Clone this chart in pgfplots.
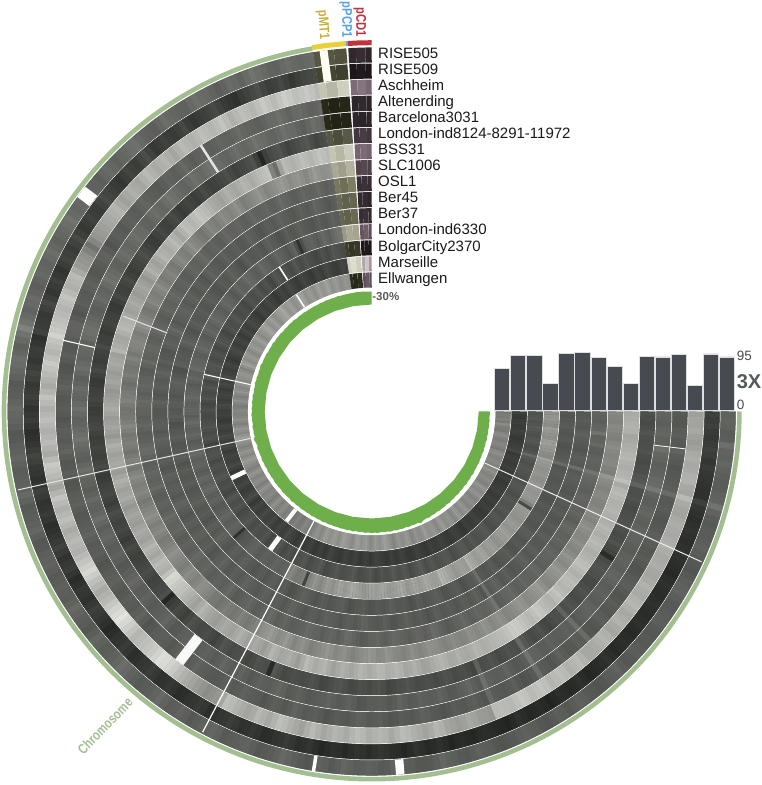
\documentclass[border=0pt]{standalone}
\usepackage{fontspec}
\setmainfont{Liberation Sans}
\usepackage{graphicx}
\usepackage{pgfplots}
\usepackage{pgfplotstable}
\pgfplotsset{compat=1.18}
\usepgfplotslibrary{polar}
\definecolor{band}{RGB}{163,191,146}
\definecolor{gcgreen}{RGB}{110,174,75}
\definecolor{barc}{RGB}{69,75,81}
\pgfplotsset{
 colormap={ringgray}{rgb255(0)=(0,3,0) rgb255(100)=(255,255,250)},
 colormap={olive}{rgb255(0)=(10,10,0) rgb255(50)=(130,130,105) rgb255(100)=(250,250,240)},
 colormap={plum}{rgb255(0)=(5,0,3) rgb255(50)=(130,112,125) rgb255(100)=(240,235,235)},
}
\pgfplotstableread{
a r1 r2 r3 r4 r5 r6 r7 r8 r9 r10 r11 r12 r13 r14 r15
0 37 24 62 34 38 30 66 52 38 33 33 56 31 24 46
-1 38 23 64 33 37 29 67 51 37 34 32 57 32 22 48
-2 37 24 63 33 36 28 68 50 36 35 33 58 33 21 47
-3 35 22 65 35 38 30 69 53 38 34 34 55 31 23 50
-4 36 21 62 36 39 32 68 52 39 33 35 54 32 24 46
-5 42 23 60 34 37 30 64 50 44 36 33 60 34 22 54
-6 38 24 62 33 37 29 65 49 37 37 32 58 33 23 49
-7 37 23 66 38 43 30 67 52 38 35 33 56 31 25 47
-8 39 20 67 35 39 31 68 54 40 34 34 55 30 24 46
-9 37 22 65 34 38 29 70 52 36 33 32 60 32 22 52
-10 36 21 66 32 36 28 71 51 35 32 31 61 33 21 54
-11 35 20 68 33 37 29 68 52 37 34 32 58 31 22 50
-12 35 19 69 34 38 30 67 53 38 36 33 57 29 23 48
-13 37 18 65 35 40 32 69 50 37 35 34 54 30 24 51
-14 38 18 64 36 41 33 70 49 37 34 35 53 32 25 52
-15 44 24 72 41 46 38 74 58 45 42 41 62 40 27 50
-16 38 20 66 34 38 30 66 54 40 34 32 59 34 21 47
-17 35 18 64 34 36 30 70 52 39 35 33 58 32 23 53
-18 34 17 63 35 36 31 72 50 38 36 34 56 30 24 55
-19 35 18 66 33 38 29 70 52 37 35 33 57 32 23 52
-20 35 19 67 32 39 28 68 53 36 34 32 58 33 22 50
-21 36 18 66 33 37 29 69 51 38 33 33 56 32 23 52
-22 37 17 65 34 36 30 70 50 39 32 34 55 31 24 53
-23 35 18 67 36 38 31 68 52 38 34 34 58 30 22 50
-24 34 19 69 36 39 31 66 54 37 35 33 60 29 21 48
-25 33 18 67 35 38 30 68 53 38 34 32 59 31 23 52
-26 32 17 65 33 37 28 71 51 39 33 31 57 33 24 56
-27 34 16 66 34 36 29 69 54 37 34 32 58 33 22 53
-28 36 15 67 35 35 31 67 56 35 35 34 59 32 21 50
-29 37 17 65 33 37 28 70 54 38 33 33 57 30 22 52
-30 38 18 64 31 38 26 72 52 40 32 32 50 29 23 54
-31 36 17 66 32 37 16 70 53 39 33 33 28 31 24 52
-32 34 16 69 34 36 28 67 55 37 35 34 60 33 25 49
-33 34 17 67 35 38 30 68 53 38 34 33 59 32 23 53
-34 35 18 66 36 39 32 70 51 39 33 32 58 31 22 58
-35 36 17 69 34 37 31 73 54 37 35 32 57 32 23 55
-36 36 16 71 32 35 30 74 57 36 36 33 56 33 24 52
-37 34 17 68 33 36 28 71 55 38 34 35 58 32 23 55
-38 33 18 65 35 37 27 68 53 39 33 35 60 30 22 57
-39 34 16 67 34 36 29 71 56 38 34 34 59 32 24 53
-40 34 15 69 33 35 31 73 59 38 36 32 57 33 24 50
-41 35 16 66 35 37 29 72 57 37 35 33 60 32 22 53
-42 36 17 64 36 38 28 70 55 36 33 34 62 31 21 55
-43 34 16 68 33 37 30 72 53 39 35 32 60 29 22 53
-44 33 15 70 32 36 32 75 52 40 37 31 59 29 23 51
-45 35 17 68 33 34 30 73 56 38 36 33 57 32 25 55
-46 38 19 66 41 42 38 69 60 37 34 35 56 34 25 58
-47 36 17 65 35 36 30 70 58 38 33 34 59 33 23 55
-48 35 16 65 36 37 30 72 56 39 32 33 61 32 22 53
-49 33 15 69 34 36 28 75 54 37 34 32 60 31 23 57
-50 32 14 72 33 35 26 77 53 36 36 31 58 30 24 59
-51 33 16 70 35 36 28 74 56 38 34 34 62 32 21 54
-52 34 18 68 37 37 31 71 58 40 33 35 64 33 20 51
-53 36 16 72 34 35 29 73 56 39 36 33 62 31 22 55
-54 37 15 74 32 35 28 75 54 38 38 32 60 30 23 57
-55 35 16 72 34 37 30 78 52 36 36 33 63 33 24 55
-56 33 17 70 35 38 33 79 51 35 34 34 65 34 24 54
-57 35 15 74 42 44 40 78 54 45 42 42 68 33 22 58
-58 36 13 76 34 36 29 75 56 40 32 36 60 31 21 60
-59 34 15 74 32 34 30 73 54 38 35 34 61 30 22 56
-60 32 16 72 31 33 31 72 52 37 37 33 62 28 23 52
-61 33 15 75 33 35 29 71 55 38 35 31 60 31 24 55
-62 35 14 77 36 38 27 70 57 39 33 30 58 33 25 58
-63 36 16 74 34 36 30 68 54 37 35 33 61 33 23 57
-64 37 18 71 33 35 32 67 52 36 36 35 63 32 22 55
-65 36 15 72 34 36 30 69 54 38 34 34 66 31 23 58
-66 34 13 73 35 37 29 70 55 40 32 33 68 30 24 61
-67 33 14 72 40 43 37 67 52 38 34 32 70 32 22 56
-68 32 15 58 32 34 26 65 51 37 35 31 62 33 20 54
-69 33 16 59 34 36 28 66 52 35 34 34 61 31 22 55
-70 35 17 60 36 39 30 68 54 34 33 36 62 29 23 57
-71 36 16 63 35 37 29 66 52 36 35 35 64 32 24 53
-72 37 14 65 33 36 28 65 50 38 36 34 65 35 25 51
-73 35 15 62 34 34 30 68 52 40 33 33 62 33 22 56
-74 33 16 60 35 33 31 70 54 41 31 32 60 31 21 59
-75 34 15 62 33 36 29 68 55 38 33 34 62 29 21 57
-76 36 13 64 31 38 27 66 56 36 35 35 63 28 22 54
-77 37 16 68 33 36 29 63 53 38 34 32 60 31 24 56
-78 39 18 70 34 35 30 62 51 39 33 30 58 33 25 58
-79 36 16 66 36 36 29 65 53 37 35 32 62 31 23 54
-80 34 15 63 37 37 28 68 55 35 37 34 65 30 21 51
-81 33 17 66 35 35 30 66 52 37 35 33 63 32 23 54
-82 33 19 68 33 34 32 64 50 38 34 33 61 34 24 57
-83 35 16 71 34 36 30 68 52 39 32 35 60 31 21 60
-84 36 14 73 35 38 29 70 53 40 31 36 59 29 20 62
-85 37 16 69 33 35 27 68 55 38 34 34 62 30 22 58
-86 38 17 65 32 33 26 67 57 36 36 32 64 32 23 55
-87 35 19 69 34 35 29 70 54 37 34 33 62 29 24 57
-88 34 20 71 36 36 31 71 53 39 33 34 60 27 25 59
-89 36 18 69 35 35 30 68 56 38 34 32 62 30 23 55
-90 37 16 67 34 35 28 66 58 37 35 31 63 33 21 52
-91 36 18 71 36 33 29 68 56 35 37 33 60 31 23 56
-92 35 19 73 37 32 30 70 54 34 38 35 58 30 24 60
-93 37 17 70 35 35 28 67 52 36 35 34 60 29 22 58
-94 39 15 66 33 37 27 64 50 38 33 33 62 28 20 56
-95 36 17 68 34 35 30 66 53 40 35 31 64 31 23 59
-96 34 18 70 35 34 32 68 56 41 36 30 66 34 25 61
-97 36 16 67 33 36 31 65 54 38 34 33 62 32 23 57
-98 37 14 64 31 38 29 62 52 36 32 36 59 31 22 53
-99 34 17 68 34 36 27 66 55 38 34 35 61 30 24 56
-100 32 20 72 36 35 26 70 58 39 35 34 63 29 25 58
-101 34 18 67 35 34 29 68 55 37 36 33 59 31 22 60
-102 36 17 62 34 33 31 66 53 35 37 32 55 33 20 62
-103 38 20 65 36 35 29 69 51 37 35 34 58 31 22 58
-104 40 22 68 38 37 28 72 49 38 33 35 60 30 23 54
-105 37 20 72 35 35 29 66 53 39 35 33 56 28 25 57
-106 35 19 74 33 34 30 60 56 40 36 31 52 27 26 59
-107 34 17 69 35 37 28 64 54 38 34 33 55 31 23 57
-108 33 16 65 36 39 27 67 51 37 32 34 58 34 21 55
-109 36 19 68 34 37 30 65 55 36 34 36 54 32 23 58
-110 38 21 71 32 35 33 64 59 35 35 37 50 31 24 60
-111 37 19 66 34 36 16 67 56 37 37 35 26 29 22 56
-112 36 18 63 35 37 29 70 54 39 38 33 48 28 20 52
-113 35 21 66 36 35 30 64 57 37 35 31 47 31 23 55
-114 34 23 69 37 33 31 60 60 36 33 30 46 33 25 57
-115 37 21 72 35 36 28 63 57 39 35 33 49 31 24 53
-116 39 20 74 34 38 26 66 55 41 36 35 52 30 22 50
-117 38 18 64 35 36 28 64 52 39 35 34 50 29 24 48
-118 37 17 58 36 35 30 62 50 38 34 33 38 28 25 47
-119 35 20 56 34 37 29 65 48 36 36 35 37 30 23 50
-120 33 22 54 33 39 28 68 46 35 37 36 36 31 21 52
-121 36 20 57 34 36 30 65 48 37 35 34 37 29 23 49
-122 38 19 60 35 34 32 62 50 39 33 32 38 27 24 46
-123 36 17 63 36 36 28 64 47 38 34 34 36 30 26 48
-124 35 16 66 38 37 25 66 45 37 35 35 35 33 28 50
-125 38 19 69 36 36 27 63 47 35 37 33 36 31 25 47
-126 40 21 73 34 35 29 60 48 34 38 31 37 30 23 45
-127 38 19 78 36 37 28 62 46 37 36 33 35 28 25 49
-128 36 18 82 37 38 27 64 44 40 34 34 34 26 26 52
-129 35 21 85 35 37 29 67 46 38 35 36 36 29 24 50
-130 34 23 86 33 36 31 70 47 36 36 37 38 32 22 48
-131 36 21 82 35 34 27 66 50 37 34 35 37 30 25 51
-132 38 20 78 36 33 24 62 52 38 33 33 36 29 27 54
-133 40 18 76 36 36 26 65 54 36 36 35 34 30 25 51
-134 42 17 74 35 39 28 68 55 35 38 36 33 31 24 49
-135 39 20 72 33 37 25 71 52 37 36 34 32 29 26 53
-136 37 22 70 32 36 22 74 50 39 35 32 30 28 28 56
-137 36 20 75 35 35 14 76 52 38 33 33 18 31 25 51
-138 35 19 80 38 34 30 78 54 37 32 35 36 33 23 47
-139 37 17 84 36 36 28 82 51 39 34 37 37 31 25 50
-140 39 15 88 34 38 27 84 48 40 36 38 38 30 26 53
-141 36 18 85 35 36 26 75 50 38 35 35 36 28 23 52
-142 33 20 82 36 35 25 68 52 36 34 33 35 27 21 50
-143 35 22 77 34 38 27 70 54 37 36 35 37 30 25 54
-144 36 24 72 33 40 29 72 56 38 37 36 39 32 29 57
-145 38 21 69 35 38 27 68 53 36 35 33 37 30 27 52
-146 40 18 66 37 36 26 64 50 35 33 31 36 29 25 48
-147 37 20 70 36 34 25 67 48 37 35 33 34 31 23 52
-148 35 21 74 35 33 24 70 47 39 36 35 33 33 22 55
-149 36 18 79 33 36 26 66 50 38 34 34 36 29 25 53
-150 37 16 84 32 38 28 62 53 37 32 33 38 26 27 51
-151 35 20 80 34 36 25 64 51 39 34 35 36 28 25 55
-152 34 23 76 36 35 22 66 49 41 35 37 35 30 24 58
-153 36 21 72 35 37 25 63 52 38 37 35 38 29 25 53
-154 38 19 68 34 39 27 60 55 36 38 34 40 28 26 49
-155 37 22 70 36 38 26 62 53 37 35 33 38 31 23 52
-156 36 25 72 38 36 25 64 51 38 33 32 36 33 21 54
-157 34 22 69 36 39 27 61 48 36 35 34 38 31 25 57
-158 33 20 66 35 42 29 58 46 35 36 36 39 29 28 60
-159 36 18 70 34 39 26 62 49 37 35 34 36 30 26 56
-160 39 17 74 33 37 23 66 52 40 34 33 34 31 24 52
-161 37 20 71 35 38 25 64 50 38 36 34 36 29 25 55
-162 36 22 68 37 40 27 62 48 37 37 35 38 27 26 57
-163 35 20 72 36 37 26 65 51 38 34 33 37 30 24 53
-164 34 19 76 35 35 25 68 54 39 32 31 36 32 22 50
-165 37 22 70 33 37 23 64 50 37 34 34 38 31 25 53
-166 40 24 64 32 38 22 60 46 36 36 36 40 30 27 56
-167 38 21 68 34 40 25 63 48 37 35 35 38 27 25 59
-168 37 18 72 36 42 28 66 50 38 33 34 37 25 24 62
-169 36 20 75 34 39 26 64 47 40 34 33 35 28 26 57
-170 35 21 78 33 36 24 62 44 41 35 32 34 31 28 53
-171 37 24 72 35 37 25 65 47 39 36 34 37 30 25 55
-172 39 26 66 38 39 26 68 49 37 38 36 39 28 23 58
-173 37 23 69 36 41 24 63 47 36 35 34 37 30 25 53
-174 36 20 73 34 44 23 58 45 35 33 33 36 32 26 49
-175 34 18 70 35 42 25 61 49 37 35 31 38 30 23 52
-176 33 17 68 36 40 27 64 52 39 36 30 41 29 21 55
-177 36 20 71 34 38 26 62 49 37 35 33 38 28 23 52
-178 38 23 74 32 37 25 60 46 36 34 35 35 27 25 50
-179 39 21 71 34 40 23 63 45 37 33 34 37 28 24 51
-180 40 19 68 35 43 22 66 44 38 33 33 38 30 24 52
-181 38 22 72 34 40 24 64 47 39 35 35 37 28 26 49
-182 36 24 75 33 38 26 62 50 40 37 36 36 26 28 47
-183 35 22 70 35 39 25 60 48 38 34 34 38 28 25 51
-184 34 21 66 37 41 24 58 47 36 32 32 40 31 23 55
-185 37 24 69 35 38 22 61 44 38 34 34 38 29 25 52
-186 39 26 72 34 36 21 64 42 39 36 35 37 28 26 49
-187 41 23 75 32 39 24 62 45 38 35 36 35 30 24 53
-188 42 20 78 31 42 27 60 48 37 34 37 34 32 22 57
-189 39 22 74 34 40 25 63 46 35 36 35 36 29 25 54
-190 37 23 70 36 38 23 66 45 34 38 33 39 27 27 52
-191 40 20 73 34 39 24 64 47 37 35 31 37 33 25 56
-192 44 18 76 33 40 25 62 50 40 33 30 36 38 24 60
-193 50 25 82 35 37 28 70 46 37 36 36 41 30 28 53
-194 44 23 78 37 41 25 67 49 38 34 35 39 31 25 55
-195 40 22 76 38 43 24 65 51 39 33 34 38 32 24 57
-196 38 21 74 38 43 22 64 52 39 32 34 38 33 23 58
-197 40 24 72 35 41 24 68 50 37 35 33 36 30 25 54
-198 41 27 70 32 39 26 72 48 36 37 32 35 28 26 50
-199 38 23 73 34 37 25 70 52 38 36 35 38 30 23 56
-200 36 20 76 36 36 24 68 56 41 35 38 40 31 21 62
-201 38 22 72 35 38 22 65 53 39 37 36 38 29 23 58
-202 40 24 68 34 41 21 62 50 38 40 34 37 27 25 54
-203 39 21 70 36 39 24 64 47 36 36 32 35 30 27 57
-204 38 19 72 37 38 27 66 45 35 33 31 34 33 28 59
-205 40 23 66 35 41 25 63 48 37 35 34 37 31 25 55
-206 42 26 60 33 44 24 60 52 39 36 36 39 30 23 52
-207 39 24 58 34 42 26 62 50 38 37 34 37 28 25 56
-208 37 22 56 35 40 28 64 48 37 38 33 36 26 26 60
-209 39 25 50 37 38 25 61 51 39 36 34 39 29 24 57
-210 40 28 44 38 37 23 58 54 40 34 35 41 31 22 55
-211 42 24 52 35 40 25 63 50 38 36 33 39 30 25 58
-212 44 21 58 32 42 26 68 47 36 37 32 38 29 27 62
-213 41 23 60 34 40 28 65 49 37 35 34 36 31 25 57
-214 39 25 62 36 39 30 62 51 38 33 36 35 33 24 53
-215 40 23 64 35 41 27 66 48 36 35 35 38 30 26 56
-216 41 22 66 34 43 25 70 46 35 36 34 40 28 28 58
-217 39 25 68 36 41 23 68 50 37 34 32 38 29 26 61
-218 38 28 70 37 40 22 66 53 39 32 31 37 30 25 64
-219 37 26 66 36 38 25 69 50 38 35 33 35 28 23 60
-220 36 24 62 35 37 27 72 48 37 38 35 33 27 21 56
-221 39 22 65 37 40 25 68 52 39 36 34 36 30 24 58
-222 41 20 68 39 42 24 64 55 41 35 33 39 32 26 61
-223 39 23 66 37 40 26 69 52 38 34 35 37 30 25 57
-224 37 26 64 36 39 28 74 50 36 33 37 36 29 23 54
-225 39 24 68 35 42 25 72 47 37 35 35 38 31 25 57
-226 40 23 72 34 45 22 70 45 38 37 34 41 33 27 60
-227 42 26 69 36 43 24 73 48 36 35 32 39 30 25 62
-228 43 29 66 38 41 26 76 52 35 34 30 38 28 24 65
-229 40 25 68 37 39 25 74 50 38 35 33 36 30 22 61
-230 38 21 70 36 38 23 72 48 40 36 36 35 31 21 57
-231 37 23 67 38 40 25 69 51 38 34 34 37 28 24 59
-232 36 25 64 40 43 28 66 54 37 33 33 40 26 26 62
-233 39 23 68 37 41 26 64 52 38 35 34 38 30 25 58
-234 42 22 72 35 40 24 62 50 39 38 35 37 33 23 55
-235 40 24 70 37 42 25 65 53 37 36 33 35 31 26 57
-236 39 27 68 38 44 26 68 56 36 35 32 34 29 28 60
-237 38 23 71 37 42 28 66 52 38 33 35 36 30 26 62
-238 37 20 74 36 41 30 64 48 40 32 37 39 31 24 64
-239 40 22 72 37 39 27 67 50 38 34 35 37 29 23 60
-240 43 24 70 39 38 25 70 53 37 36 34 36 27 22 56
-241 41 26 73 38 40 26 68 55 38 35 32 34 30 25 58
-242 40 28 76 37 42 27 66 58 39 34 31 32 33 27 60
-243 38 25 72 39 40 29 69 54 37 36 33 35 30 25 57
-244 36 22 68 41 39 31 72 51 36 38 36 38 28 24 54
-245 38 20 71 39 41 24 74 53 38 36 34 30 30 22 58
-246 41 18 74 38 44 14 76 55 41 35 33 18 32 21 62
-247 40 22 72 37 42 24 50 58 39 34 35 30 30 24 59
-248 38 25 70 36 41 28 42 60 38 33 37 36 29 26 57
-249 41 27 74 38 39 30 62 57 36 35 35 37 27 24 60
-250 44 30 78 40 38 32 72 54 35 37 34 38 26 23 63
-251 42 26 75 41 40 28 70 56 37 35 33 36 28 26 59
-252 40 23 72 43 43 25 68 58 39 34 32 34 31 28 55
-253 38 25 76 40 41 27 71 55 38 36 34 37 29 26 58
-254 37 27 80 38 40 29 74 52 37 39 36 40 27 24 60
-255 40 24 77 40 38 31 72 56 38 37 34 38 30 23 57
-256 42 21 74 41 36 33 70 60 40 36 33 36 33 22 54
-257 40 24 76 39 39 29 73 57 38 34 35 39 31 24 56
-258 39 26 78 37 42 26 76 55 36 33 38 42 30 26 58
-259 40 27 75 38 40 28 74 56 37 35 36 44 29 25 57
-260 41 28 72 40 38 30 72 58 38 37 35 45 28 25 56
-260.7 41 28 72 40 38 30 72 58 38 37 35 45 28 25 56
}\chrom
\pgfplotstableread{
a r1 r2 r3 r4 r5 r6 r7 r8 r9 r10 r11 r12 r13 r14 r15
-260.7 32 24 78 13 13 32 78 66 46 40 38 60 22 84 14
-262 32 24 72 10 10 28 72 62 42 36 36 66 18 88 12
-264 30 22 82 12 11 33 80 70 48 38 40 64 20 82 14
-266 30 22 84 12 12 30 78 68 46 40 38 68 16 86 14
}\pmt
\pgfplotstableread{
a r1 r2 r3 r4 r5 r6 r7 r8 r9 r10 r11 r12 r13 r14 r15
-266.3 18 10 48 17 17 25 45 30 20 18 20 38 10 72 36
-267.5 20 11 52 18 16 27 48 32 22 19 22 42 11 84 40
-269 17 10 46 16 17 24 44 29 20 17 19 36 10 66 34
-270 17 10 46 16 17 24 44 29 20 17 19 36 10 66 34
}\pcd
\newcommand{\Ring}[2]{%
 \addplot[forget plot,data cs=polar,line width=15.1pt,color=black!#2!white] table[x=a,y expr={356.5-16.07*(#1-1)}] {\chrom};
 \addplot[forget plot,data cs=polar,mesh,shader=flat corner,line width=15.1pt,colormap name=ringgray,point meta=explicit] table[x=a,y expr={356.5-16.07*(#1-1)},meta=r#1] {\chrom};
 \addplot[forget plot,data cs=polar,mesh,shader=flat corner,line width=15.1pt,colormap name=olive,point meta=explicit] table[x=a,y expr={356.5-16.07*(#1-1)},meta=r#1] {\pmt};
 \addplot[forget plot,data cs=polar,mesh,shader=flat corner,line width=15.1pt,colormap name=plum,point meta=explicit] table[x=a,y expr={356.5-16.07*(#1-1)},meta=r#1] {\pcd};
}
\newcommand{\Rad}[5]{% angle, r in, r out, width, colour
 \addplot[forget plot,data cs=polar,line width=#4pt,color=#5] coordinates {(#1,#2)(#1,#3)};
}
\newcommand{\Lab}[2]{\node[anchor=base west,font=\fontsize{15}{15}\selectfont,inner sep=0pt,text=black!90] at (axis cs:6.3,{411.5-58.2-16.07*(#1-1)}) {#2};}
\newcommand{\VLab}[5]{\node[rotate=#1,inner sep=0pt,font=\bfseries\fontsize{14}{14}\selectfont,text=#2] at (axis cs:#3,#4) {\scalebox{.8}[1]{#5}};}
\begin{document}
\begin{tikzpicture}
\path[use as bounding box] (0pt,0pt) rectangle (762pt,785pt);
\begin{axis}[at={(0pt,0pt)},anchor=south west,scale only axis,width=762pt,height=785pt,
 xmin=-371.7,xmax=390.3,ymin=-373.5,ymax=411.5,hide axis,clip=false,
 point meta min=0,point meta max=100]
\Ring{1}{62}\Ring{2}{80}\Ring{3}{33}\Ring{4}{65}\Ring{5}{62}\Ring{6}{72}\Ring{7}{35}\Ring{8}{50}
\Ring{9}{62}\Ring{10}{65}\Ring{11}{66}\Ring{12}{55}\Ring{13}{70}\Ring{14}{76}\Ring{15}{46}
% radial streaks
\Rad{-117.8}{124}{362.5}{1.2}{white}
\Rad{-167.5}{124}{362.5}{1.0}{white!80!gray}
\Rad{-24.5}{124}{362.5}{1.0}{white!85!gray}
\Rad{-6.8}{284}{316}{0.9}{white!90!gray}
\Rad{-193}{284}{317}{1.1}{white}
\Rad{-192.5}{124}{172}{1.0}{white}
\Rad{-201}{219}{266}{1.1}{white!75!gray}
% white blocks
\Rad{-237.3}{284.5}{316}{2.5}{white!80!gray}
\Rad{-237.4}{156}{171.5}{1.6}{white}
\Rad{-237.2}{124}{139}{1.6}{white}
\Rad{-126.3}{156}{171.5}{5}{white}
\Rad{-127.8}{124}{139}{4}{white}
\Rad{-154.6}{140}{155.5}{4.5}{white}
\Rad{-127.5}{284.5}{316}{10}{white!95!gray}
\Rad{-99.2}{349}{364.2}{3.5}{white}
\Rad{-85.5}{349}{364.2}{8.5}{white}
\Rad{-217.1}{349}{364.2}{13}{white}
\Rad{-262.4}{333}{364.2}{8}{white!95!yellow}
% outer band
\addplot[forget plot,data cs=polar,color=band,line width=4.6pt] table[x=a,y expr=367.7] {\chrom};
\addplot[forget plot,data cs=polar,color={rgb,255:red,232;green,208;blue,60},line width=5pt] coordinates {(-260.7,368.8)(-263,368.8)(-266,368.8)};
\addplot[forget plot,data cs=polar,color={rgb,255:red,110;green,170;blue,230},line width=5pt] coordinates {(-266,368.8)(-266.3,368.8)};
\addplot[forget plot,data cs=polar,color={rgb,255:red,195;green,50;blue,60},line width=5pt] coordinates {(-266.3,368.8)(-268,368.8)(-270,368.8)};
% GC content
\addplot[forget plot,data cs=polar,fill=gcgreen,draw=none] coordinates {
(0,118)(-1.5,118.2)(-3,117.8)(-4.5,118.4)(-6,118)(-7.5,118.3)(-9,117.9)(-10.5,118.4)(-12,118.1)(-13.5,118.6)(-15,118)(-16.5,118.5)(-18,118.2)(-19.5,118.8)(-21,118.2)(-22.5,118.6)(-24,118.4)(-25.5,119)(-27,118.4)(-28.5,118.8)(-30,118.6)(-31.5,119.2)(-33,118.6)(-34.5,119.1)(-36,118.8)(-37.5,119.4)(-39,118.8)(-40.5,119.3)(-42,119)(-43.5,119.6)(-45,119)(-46.5,119.5)(-48,119.3)(-49.5,120)(-51,119.3)(-52.5,119.9)(-54,119.6)(-55.5,120.2)(-57,119.6)(-58.5,120.2)(-60,120)(-61.5,120.6)(-63,120)(-64.5,120.6)(-66,121.8)(-67.5,120.5)(-69,121)(-70.5,120.6)(-72,121.2)(-73.5,120.7)(-75,121.3)(-76.5,120.9)(-78,121.5)(-79.5,120.9)(-81,121.6)(-82.5,121)(-84,121.4)(-85.5,120.9)(-87,121.7)(-88.5,121.1)(-90,121.6)(-91.5,121)(-93,121.5)(-94.5,120.9)(-96,121.3)(-97.5,120.7)(-99,121.4)(-100.5,120.7)(-102,121.1)(-103.5,120.6)(-105,121)(-106.5,120.4)(-108,120.8)(-109.5,120.3)(-111,120.7)(-112.5,120.2)(-114,120.8)(-115.5,120.1)(-117,120.5)(-118.5,120)(-120,120.4)(-121.5,119.9)(-123,120.2)(-124.5,119.8)(-126,120.3)(-127.5,119.7)(-129,120.1)(-130.5,119.8)(-132,120.4)(-133.5,119.6)(-135,120)(-136.5,119.7)(-138,120.2)(-139.5,119.5)(-141,119.9)(-142.5,119.7)(-144,120.1)(-145.5,119.4)(-147,119.8)(-148.5,119.6)(-150,120)(-151.5,119.3)(-153,119.9)(-154.5,119.5)(-156,120.1)(-157.5,119.4)(-159,119.8)(-160.5,119.6)(-162,120.2)(-163.5,119.3)(-165,120)(-166.5,121.2)(-168,119.5)(-169.5,120.1)(-171,119.7)(-172.5,120.3)(-174,119.5)(-175.5,119.9)(-177,119.8)(-178.5,120.4)(-180,119.6)(-181.5,120.1)(-183,119.5)(-184.5,120)(-186,119.7)(-187.5,120.2)(-189,119.4)(-190.5,119.9)(-192,119.5)(-193.5,120.3)(-195,119.6)(-196.5,120)(-198,119.4)(-199.5,119.8)(-201,119.7)(-202.5,120.4)(-204,119.5)(-205.5,119.9)(-207,119.8)(-208.5,120)(-210,119.4)(-211.5,119.8)(-213,119.6)(-214.5,120.1)(-216,119.5)(-217.5,119.9)(-219,119.7)(-220.5,120)(-222,119.3)(-223.5,119.8)(-225,119.5)(-226.5,119.9)(-228,119.7)(-229.5,120.1)(-231,119.4)(-232.5,119.8)(-234,119.6)(-235.5,120)(-237,119.5)(-238.5,119.8)(-240,119.7)(-241.5,119.9)(-243,119.5)(-244.5,120)(-246,119.6)(-247.5,120.1)(-249,119.8)(-250.5,119.9)(-252,119.7)(-253.5,120.2)(-255,119.8)(-256.5,120)(-258,119.9)(-259.5,120.1)(-261,120)(-262.5,120.3)(-264,120)(-265.5,120.2)(-267,119.9)(-268.5,120)(-270,119.8)
(-270,107)(-260,107)(-250,107)(-240,107)(-230,107)(-220,107)(-210,107)(-200,107)(-190,107)(-180,107)(-170,107)(-160,107)(-150,107)(-140,107)(-130,107)(-120,107)(-110,107)(-100,107)(-90,107)(-80,107)(-70,107)(-60,107)(-50,107)(-40,107)(-30,107)(-20,107)(-10,107)(0,107)} \closedcycle;
% texts
\Lab{1}{RISE505}\Lab{2}{RISE509}\Lab{3}{Aschheim}\Lab{4}{Altenerding}\Lab{5}{Barcelona3031}
\Lab{6}{London-ind8124-8291-11972}\Lab{7}{BSS31}\Lab{8}{SLC1006}\Lab{9}{OSL1}\Lab{10}{Ber45}
\Lab{11}{Ber37}\Lab{12}{London-ind6330}\Lab{13}{BolgarCity2370}\Lab{14}{Marseille}\Lab{15}{Ellwangen}
\node[anchor=west,inner sep=0pt,font=\bfseries\fontsize{11.5}{11.5}\selectfont,text=black!65] at (axis cs:0.5,114.5) {-30\%};
\VLab{46}{band}{-266.7}{-314.5}{Chromosome}
\VLab{-86}{{rgb,255:red,200;green,175;blue,60}}{-49}{386.5}{pMT1}
\VLab{-90}{{rgb,255:red,90;green,160;blue,230}}{-26}{391.5}{pPCP1}
\VLab{-90}{{rgb,255:red,190;green,50;blue,60}}{-12}{389}{pCD1}
\end{axis}
\begin{axis}[at={(494pt,375pt)},anchor=south west,scale only axis,width=241.05pt,height=56.7pt,
 xmin=0.5,xmax=15.5,ymin=0,ymax=95,hide axis,clip=false]
\addplot[ybar,bar shift=0pt,bar width=15.3pt,fill=barc,draw=white!75!gray,line width=.6pt] coordinates {
(1,70)(2,92)(3,92)(4,44)(5,95)(6,96)(7,88)(8,73)(9,45)(10,90)(11,89)(12,93)(13,41)(14,94)(15,89)};
\node[anchor=west,inner sep=0pt,font=\fontsize{13.5}{13.5}\selectfont,text=barc] at (axis cs:15.6,91) {95};
\node[anchor=west,inner sep=0pt,font=\bfseries\fontsize{20}{20}\selectfont,text={rgb,255:red,85;green,90;blue,95}] at (axis cs:15.6,47) {3X};
\node[anchor=west,inner sep=0pt,font=\fontsize{13.5}{13.5}\selectfont,text=barc] at (axis cs:15.6,8) {0};
\end{axis}
\end{tikzpicture}
\end{document}
